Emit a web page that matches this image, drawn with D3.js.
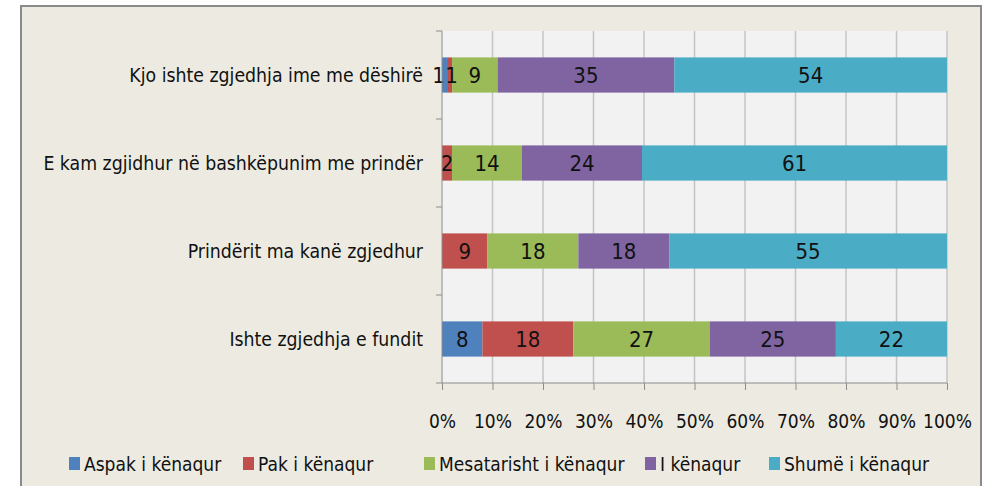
<!DOCTYPE html>
<html>
<head>
<meta charset="utf-8">
<style>
body { margin: 0; background: #fff; }
text { font-family: "Liberation Sans Narrow", "DejaVu Sans Condensed", sans-serif; fill: #111; }
.grid line { stroke: #c4c4c4; stroke-width: 1.5; }
.axis path, .axis line { stroke: #8c8c8c; }
</style>
</head>
<body>
<svg width="986" height="486"></svg>
<script src="https://d3js.org/d3.v7.min.js"></script>
<script>

var categories = ["Kjo ishte zgjedhja ime me dëshirë",
                  "E kam zgjidhur në bashkëpunim me prindër",
                  "Prindërit ma kanë zgjedhur",
                  "Ishte zgjedhja e fundit"];
var seriesNames = ["Aspak i kënaqur", "Pak i kënaqur", "Mesatarisht i kënaqur", "I kënaqur", "Shumë i kënaqur"];
var colors = ["#4f81bd", "#c0504d", "#9bbb59", "#8064a2", "#4bacc6"];
var aspak = [1, 0, 0, 8];
var pak = [1, 2, 9, 18];
var mesatarisht = [9, 14, 18, 27];
var kenaqur = [35, 24, 18, 25];
var shume = [54, 61, 55, 22];
var xTicks = [0, 0.1, 0.2, 0.3, 0.4, 0.5, 0.6, 0.7, 0.8, 0.9, 1];

var values = [aspak, pak, mesatarisht, kenaqur, shume];
var svg = d3.select("svg");
var margin = {top: 31, left: 442, right: 39, bottom: 103};
var width = 986 - margin.left - margin.right,
    height = 486 - margin.top - margin.bottom;

// outer frame
svg.append("rect").attr("x", 21).attr("y", 6).attr("width", 960).attr("height", 500)
    .attr("fill", "#edebe1").attr("stroke", "#8a8a8a").attr("stroke-width", 2);

var g = svg.append("g").attr("transform", "translate(" + margin.left + "," + margin.top + ")");

var x = d3.scaleLinear().domain([0, 1]).range([0, width]);
var y = d3.scaleBand().domain(categories).range([0, height]).paddingInner(0.6).paddingOuter(0.3);

g.append("rect").attr("width", width).attr("height", height).attr("fill", "#f2f2f2");

g.append("g").attr("class", "grid")
  .selectAll("line").data(xTicks.slice(1)).join("line")
    .attr("x1", d => x(d)).attr("x2", d => x(d))
    .attr("y1", 0).attr("y2", height);

// stacked, normalised rows
var rows = categories.map(function(c, i) {
  var total = d3.sum(values, v => v[i]), acc = 0;
  return values.map(function(v, s) {
    var seg = {cat: c, s: s, v: v[i], x0: acc / total, x1: (acc + v[i]) / total};
    acc += v[i];
    return seg;
  });
});
var segs = rows.flat().filter(d => d.v > 0);

g.selectAll("rect.bar").data(segs).join("rect")
    .attr("class", "bar")
    .attr("x", d => x(d.x0))
    .attr("width", d => x(d.x1) - x(d.x0))
    .attr("y", d => y(d.cat))
    .attr("height", y.bandwidth())
    .attr("fill", d => colors[d.s]);

// tiny segments: label nudged so the two "1"s sit side by side like the original
g.selectAll("text.val").data(segs).join("text")
    .attr("class", "val")
    .attr("x", function(d) {
      var c = (x(d.x0) + x(d.x1)) / 2;
      if (x(d.x1) - x(d.x0) < 8) c += (d.s === 0 ? -6 : 2);
      return c;
    })
    .attr("y", d => y(d.cat) + y.bandwidth() / 2)
    .attr("dy", "0.36em")
    .attr("text-anchor", "middle")
    .style("font-size", "22px")
    .text(d => d.v);

// y axis with ticks between categories
var yAx = g.append("g").attr("class", "axis");
yAx.append("line").attr("x1", 0).attr("x2", 0).attr("y1", 0).attr("y2", height);
yAx.selectAll("line.t").data(d3.range(categories.length + 1)).join("line")
    .attr("class", "t")
    .attr("x1", -6).attr("x2", 0)
    .attr("y1", i => i * height / categories.length)
    .attr("y2", i => i * height / categories.length);
yAx.selectAll("text").data(categories).join("text")
    .attr("x", -19)
    .attr("y", d => y(d) + y.bandwidth() / 2)
    .attr("dy", "0.36em")
    .attr("text-anchor", "end")
    .style("font-size", "19.3px")
    .text(d => d);

var xAx = g.append("g").attr("class", "axis").attr("transform", "translate(0," + height + ")")
    .call(d3.axisBottom(x).tickValues(xTicks).tickFormat(d3.format(".0%")).tickSize(7).tickPadding(25));
xAx.select(".domain").remove();
xAx.append("line").attr("x1", 0).attr("x2", width).attr("stroke", "#8c8c8c");
xAx.selectAll("text").style("font-size", "19px").style("font-family", null).attr("fill", "#111");

// legend
var legX = [69, 243, 424, 645, 769];
var leg = svg.append("g").selectAll("g").data(seriesNames).join("g")
    .attr("transform", (d, i) => "translate(" + legX[i] + ",457)");
leg.append("rect").attr("width", 11).attr("height", 13).attr("fill", (d, i) => colors[i]);
leg.append("text").attr("x", 15).attr("y", 7).attr("dy", "0.36em")
    .style("font-size", "19px").text(d => d);

</script>
</body>
</html>
